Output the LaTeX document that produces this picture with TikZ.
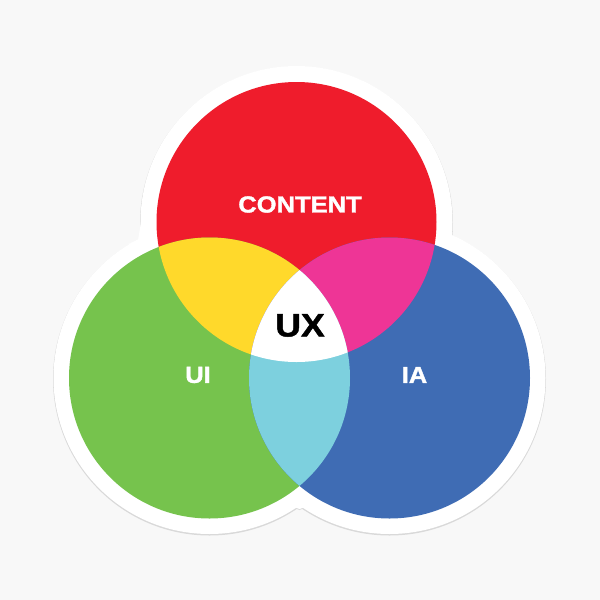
\documentclass[tikz,border=0pt]{standalone}
\usepackage{xcolor}
\usepackage{fontspec}
\newfontfamily\heavyfont[UprightFont=* Bold,FakeBold=1.5,FakeStretch=1.1]{Liberation Sans}
\definecolor{pagebg}{HTML}{F8F8F8}
\definecolor{rimshade}{HTML}{D9D9D9}
\definecolor{contentred}{HTML}{EF1C2C}
\definecolor{uigreen}{HTML}{76C34D}
\definecolor{iablue}{HTML}{3F6CB4}
\definecolor{overlapyellow}{HTML}{FFD92B}
\definecolor{overlappink}{HTML}{EE3596}
\definecolor{overlapcyan}{HTML}{7DD0DE}
\tikzset{
    circlabel/.style={font=\heavyfont\fontsize{16.5}{16.5}\selectfont, text=white, inner sep=0pt},
}
\begin{document}
\begin{tikzpicture}[x=0.025cm,y=-0.025cm]
    \fill[pagebg] (0,0) rectangle (600,600);
    \coordinate (cont) at (296.5,222);
    \coordinate (ui) at (209.5,378);
    \coordinate (ia) at (389.5,378);
    % sticker rim
    \fill[rimshade] (cont)+(0,1) circle (156.5);
    \fill[rimshade] (ui)+(0,1) circle (156.5);
    \fill[rimshade] (ia)+(0,1) circle (156.5);
    \fill[rimshade] (285,504) -- (299.5,510) -- (314,504) -- cycle;
    \fill[white] (cont) circle (156);
    \fill[white] (ui) circle (156);
    \fill[white] (ia) circle (156);
    \fill[white] (282,503) -- (299.5,509) -- (317,503) -- cycle;
    \fill[white] (141,222) -- (138,240) -- (128,244) -- (150,240) -- cycle;
    % circles
    \fill[contentred] (cont) circle (140);
    \fill[uigreen] (ui) circle (140.5);
    \fill[iablue] (ia) circle (140.5);
    % overlaps
    \begin{scope}
        \clip (cont) circle (140);
        \fill[overlapyellow] (ui) circle (140.5);
        \fill[overlappink] (ia) circle (140.5);
    \end{scope}
    \begin{scope}
        \clip (ui) circle (140.5);
        \fill[overlapcyan] (ia) circle (140.5);
        \clip (ia) circle (140.5);
        \fill[white] (cont) circle (140);
    \end{scope}
    % labels
    \node[circlabel] (contlabel) at (300,204.5) {CONTENT};
    \node[circlabel] (uilabel) at (198,375) {UI};
    \node[circlabel] (ialabel) at (414.5,375) {IA};
    \node[font=\heavyfont\fontsize{23}{23}\selectfont, inner sep=0pt] (uxlabel) at (300,325.5) {UX};
\end{tikzpicture}
\end{document}
